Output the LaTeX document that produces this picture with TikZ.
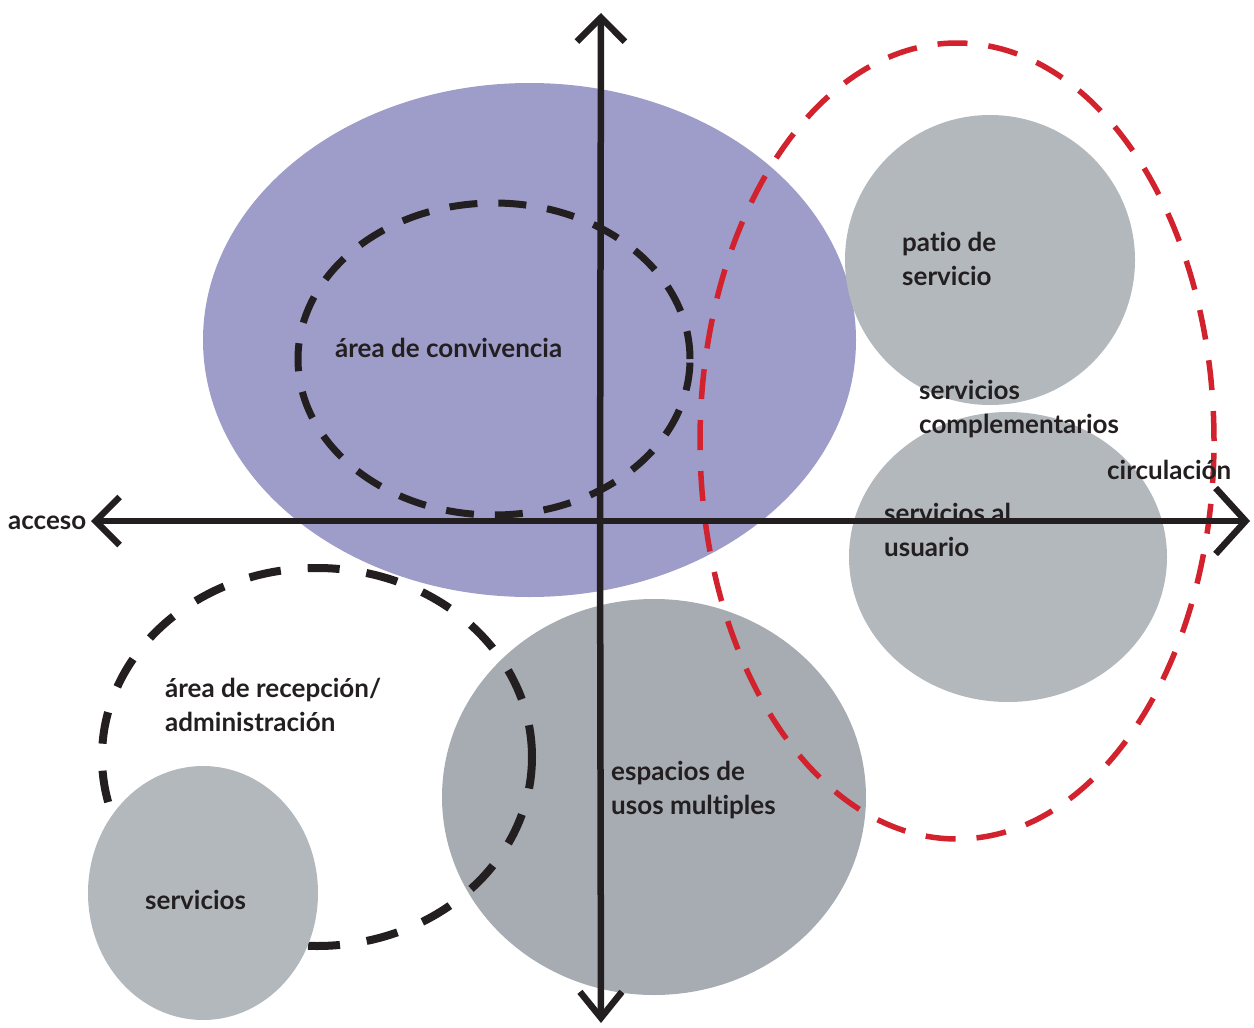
\documentclass[tikz,border=0pt]{standalone}
\usepackage{fontspec}
\setmainfont{Lato}[Ligatures={NoCommon,NoRare}]
\usetikzlibrary{arrows.meta}
\definecolor{txt}{HTML}{231F20}
\definecolor{lila}{HTML}{9E9CC8}
\definecolor{greyA}{HTML}{B3B8BD}
\definecolor{greyB}{HTML}{A6ACB1}
\definecolor{redd}{HTML}{D2222D}
\tikzset{
  lbl/.style={anchor=west, align=left, text=txt, inner sep=0pt,
    font=\fontsize{26}{34}\selectfont\bfseries},
  blackdash/.style={draw=txt, line width=7pt, dash pattern=on 28pt off 21pt},
  reddash/.style={draw=redd, line width=5.5pt, dash pattern=on 30pt off 21pt},
  axis/.style={draw=txt, line width=6.5pt},
}
\begin{document}
\begin{tikzpicture}[x=1pt,y=-1pt]
\useasboundingbox (0,0) rectangle (1254,1028);
% big purple zone
\fill[lila] (529.5,340) ellipse [x radius=326.5pt, y radius=257pt];
% espacios de usos multiples
\fill[greyB] (654,797) ellipse [x radius=212pt, y radius=198pt];
% patio de servicio
\fill[greyA] (990,260) ellipse [x radius=145pt, y radius=145pt];
% servicios al usuario
\fill[greyA] (1008,557) ellipse [x radius=159pt, y radius=145pt];
% dashed convivencia
\draw[blackdash] (494,359) ellipse [x radius=196pt, y radius=156pt];
% dashed recepcion
\draw[blackdash, line width=8pt, dash pattern=on 32pt off 27pt] (317,757) ellipse [x radius=215pt, y radius=189pt];
% servicios (bottom left)
\fill[greyA] (203,893) ellipse [x radius=115pt, y radius=127pt];
% red circulation
\draw[reddash] (957,441) ellipse [x radius=257pt, y radius=398pt];
% labels
\node[lbl] (conv) at (335,348) {área de convivencia};
\node[lbl] (patio) at (902,259) {patio de\\servicio};
\node[lbl] (compl) at (919,409) {servicios\\complementarios};
\node[lbl] (circ) at (1107,470) {circulación};
\node[lbl] (usuario) at (884,530) {servicios al\\usuario};
\node[lbl] (acc) at (8,523) {acceso};
\node[lbl] (recep) at (165,705) {área de recepción/\\administración};
\node[lbl] (esp) at (611,790) {espacios de\\usos multiples};
\node[lbl] (serv) at (145,900) {servicios};
% axes
\coordinate (center) at (600,521);
\coordinate (left) at (91,521);
\coordinate (right) at (1250,521);
\coordinate (top) at (601,13);
\coordinate (bottom) at (601,1023);
\draw[axis, -{Straight Barb[length=24pt,width=48pt]}] (center) -- (left);
\draw[axis, -{Straight Barb[length=30pt,width=66pt]}] (center) -- (right);
\draw[axis, -{Straight Barb[length=24pt,width=48pt]}] (center) -- (top);
\draw[axis, -{Straight Barb[length=26pt,width=42pt]}] (center) -- (bottom);
\end{tikzpicture}
\end{document}
